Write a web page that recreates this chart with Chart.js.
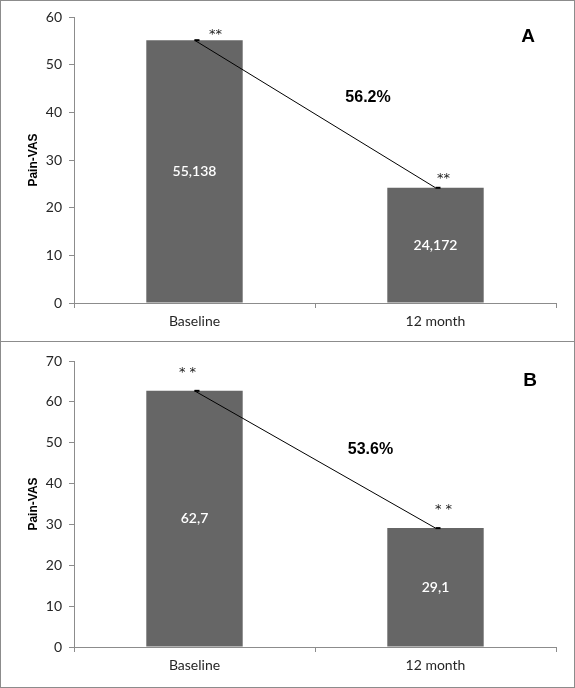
<!DOCTYPE html>
<html>
<head>
<meta charset="utf-8">
<script src="https://cdn.jsdelivr.net/npm/chart.js@4.4.0/dist/chart.umd.min.js"></script>
<style>
  body { margin: 0; background: #fff; }
  .panel { position: absolute; left: 0; width: 573px; border: 1px solid #8c8c8c; background: #fff; }
  #panelA { top: 0; height: 340px; }
  #panelB { top: 342px; height: 345px; border-top: none; }
  canvas { display: block; }
</style>
</head>
<body>
<div class="panel" id="panelA"><canvas id="chartA" width="573" height="340"></canvas></div>
<div class="panel" id="panelB"><canvas id="chartB" width="573" height="345"></canvas></div>
<script>
// values
var categories = ['Baseline', '12 month'];
var painA = [55.138, 24.172];
var painB = [62.7, 29.1];
var valueLabelsA = ['55,138', '24,172'];
var valueLabelsB = ['62,7', '29,1'];
var starsA = ['**', '**'];
var starsB = ['* *', '* *'];
var yMaxA = 60;
var yMaxB = 70;
var reductionA = '56.2%';
var reductionB = '53.6%';

var barColor = '#666666';
var axisColor = '#8c8c8c';
var tickFont = { family: 'Lato, "Open Sans", sans-serif', size: 14 };

// draws the labels inside bars, stars, percentage and panel letter
function panelText(opts) {
    return {
        id: 'panelText',
        afterDatasetsDraw: function(chart) {
            var ctx = chart.ctx;
            var bars = chart.getDatasetMeta(0).data;
            var x = chart.scales.x, y = chart.scales.y;
            ctx.save();
            ctx.textAlign = 'center';
            ctx.textBaseline = 'middle';

            ctx.fillStyle = '#ffffff';
            ctx.font = '600 14px Lato, "Open Sans", sans-serif';
            bars.forEach(function(b, i) {
                ctx.fillText(opts.valueLabels[i], b.x, (b.y + b.base) / 2);
            });

            ctx.fillStyle = '#222';
            ctx.font = '13px "DejaVu Sans", sans-serif';
            bars.forEach(function(b, i) {
                ctx.fillText(opts.stars[i], b.x + opts.starDx[i], b.y + opts.starDy[i]);
            });

            ctx.fillStyle = '#000';
            ctx.font = 'bold 16px "Liberation Sans", Arial, sans-serif';
            ctx.fillText(opts.reduction, x.getPixelForValue(opts.pctPos[0]), y.getPixelForValue(opts.pctPos[1]));

            ctx.font = 'bold 19px "Liberation Sans", Arial, sans-serif';
            ctx.fillText(opts.letter, opts.letterPos[0], opts.letterPos[1]);
            ctx.restore();
        }
    };
}

function makeChart(id, values, yMax, opts) {
    return new Chart(id, {
        data: {
            labels: categories,
            datasets: [{
                type: 'bar',
                data: values,
                backgroundColor: barColor,
                barPercentage: 0.4,
                categoryPercentage: 1.0,
                order: 2
            }, {
                type: 'line',
                data: values,
                borderColor: '#000',
                borderWidth: 1,
                pointStyle: 'dash',
                pointRadius: 5,
                pointBorderColor: '#000',
                pointBorderWidth: 2,
                order: 1
            }]
        },
        options: {
            responsive: false,
            animation: false,
            layout: { padding: { left: 0, right: 18, top: opts.padTop, bottom: 0 } },
            plugins: { legend: { display: false }, tooltip: { enabled: false } },
            scales: {
                x: {
                    offset: true,
                    grid: { display: true, offset: true, drawOnChartArea: false, drawTicks: true, tickLength: 5, color: axisColor },
                    border: { display: true, color: axisColor },
                    ticks: { font: tickFont, color: '#262626', padding: 5 },
                    afterFit: function(s) { s.height = opts.xHeight; }
                },
                y: {
                    min: 0,
                    max: yMax,
                    ticks: { stepSize: 10, font: tickFont, color: '#262626', padding: 7 },
                    grid: { display: true, drawOnChartArea: false, drawTicks: true, tickLength: 5, color: axisColor },
                    border: { display: true, color: axisColor },
                    title: {
                        display: true,
                        text: 'Pain-VAS',
                        color: '#000',
                        font: { family: '"Liberation Sans", Arial, sans-serif', size: 12, weight: 'bold' },
                        padding: { top: 25, bottom: 0 }
                    },
                    afterFit: function(s) { s.width = 73; }
                }
            }
        },
        plugins: [panelText(opts)]
    });
}

makeChart('chartA', painA, yMaxA, {
    padTop: 16, xHeight: 38,
    valueLabels: valueLabelsA, stars: starsA,
    starDx: [21, 8], starDy: [-6, -9],
    reduction: reductionA, pctPos: [0.72, 43],
    letter: 'A', letterPos: [527, 36]
});

makeChart('chartB', painB, yMaxB, {
    padTop: 19, xHeight: 40,
    valueLabels: valueLabelsB, stars: starsB,
    starDx: [-7, 8], starDy: [-18, -18],
    reduction: reductionB, pctPos: [0.73, 48.2],
    letter: 'B', letterPos: [529, 39]
});
</script>
</body>
</html>
